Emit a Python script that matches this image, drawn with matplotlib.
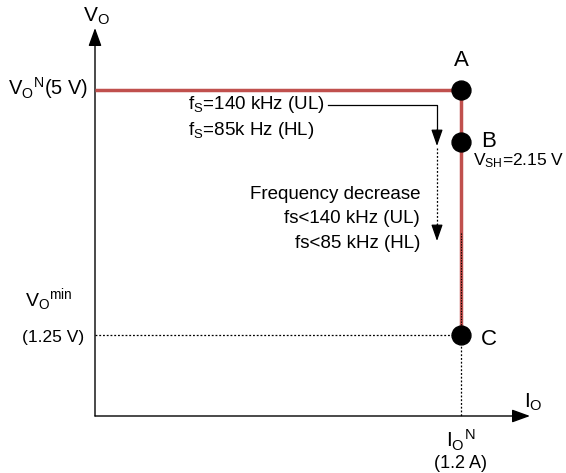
import matplotlib
matplotlib.use("Agg")
import matplotlib.pyplot as plt

plt.rcParams['font.family'] = ['Liberation Sans', 'DejaVu Sans']
plt.rcParams['mathtext.fontset'] = 'custom'
plt.rcParams['mathtext.rm'] = 'Liberation Sans'
plt.rcParams['mathtext.it'] = 'Liberation Sans:italic'

# Schematic data (diagram units: x = load current axis, y = output-voltage axis, top-down)
point_names = ['A', 'B', 'C']
point_y = [90, 142, 335]          # V_O^N (5 V), V_SH (2.15 V), V_O^min (1.25 V)
io_nominal_x = 461                # I_O^N (1.2 A)
origin = (95, 416)
axis_end = (530, 28)
curve_x = [95, 461, 461]
curve_y = [90, 90, 335]

RED = '#c0504d'

fig = plt.figure(figsize=(5.66, 4.73), dpi=100)
ax = fig.add_axes([0, 0, 1, 1])
ax.set_xlim(0, 566)
ax.set_ylim(473, 0)
ax.axis('off')

# axes with arrows
ax.annotate('', xy=(origin[0], axis_end[1]), xytext=origin,
            arrowprops=dict(arrowstyle='-|>,head_length=1.1,head_width=0.4', color='black', lw=1.0,
                            shrinkA=0, shrinkB=0))
ax.annotate('', xy=(axis_end[0], origin[1]), xytext=origin,
            arrowprops=dict(arrowstyle='-|>,head_length=1.1,head_width=0.4', color='black', lw=1.0,
                            shrinkA=0, shrinkB=0))

# dotted guides
ax.plot([origin[0], io_nominal_x], [point_y[2], point_y[2]], ls=(0, (1.5, 1.5)), color='black', lw=0.9)
ax.plot([io_nominal_x, io_nominal_x], [point_y[2], origin[1]], ls=(0, (1.5, 1.5)), color='black', lw=0.9)

# red curve
ax.plot(curve_x, curve_y, color=RED, lw=2.5, solid_capstyle='butt', zorder=3)
ax.plot([io_nominal_x, io_nominal_x], [233, point_y[2]], ls=(0, (1.2, 1.2)), color='black', lw=0.8, zorder=4)

# points
ax.scatter([io_nominal_x] * 3, point_y, s=185, color='black', zorder=5)

ax.text(io_nominal_x, 60, point_names[0], fontsize=16, ha='center', va='center')
ax.text(481, 141, point_names[1], fontsize=16, ha='left', va='center')
ax.text(481, 339, point_names[2], fontsize=16, ha='left', va='center')
ax.text(473, 161, r'V$_\mathrm{SH}$=2.15 V', fontsize=12.5, ha='left', va='center')

# axis labels
ax.text(96, 16, r'V$_\mathrm{O}$', fontsize=15, ha='center', va='center')
ax.text(524, 402, r'I$_\mathrm{O}$', fontsize=15, ha='left', va='center')
ax.text(8, 88, r'V$_\mathrm{O}$$^\mathrm{N}$(5 V)', fontsize=14.5, ha='left', va='center')
ax.text(25, 300, r'V$_\mathrm{O}$$^\mathrm{min}$', fontsize=14, ha='left', va='center')
ax.text(22, 337, '(1.25 V)', fontsize=12.5, ha='left', va='center')
ax.text(461, 440, r'I$_\mathrm{O}$$^\mathrm{N}$', fontsize=15, ha='center', va='center')
ax.text(461, 463, '(1.2 A)', fontsize=13, ha='center', va='center')

# frequency annotations
ax.text(188, 104, r'f$_\mathrm{S}$=140 kHz (UL)', fontsize=13.5, ha='left', va='center')
ax.text(188, 130, r'f$_\mathrm{S}$=85k Hz (HL)', fontsize=13.5, ha='left', va='center')
ax.plot([328, 437, 437], [105, 105, 132], color='black', lw=0.9)
ax.annotate('', xy=(437, 146), xytext=(437, 130),
            arrowprops=dict(arrowstyle='-|>,head_length=1.0,head_width=0.35', color='black', lw=0.9,
                            shrinkA=0, shrinkB=0))
ax.plot([437, 437], [148, 226], ls=(0, (1.5, 1.5)), color='black', lw=0.9)
ax.annotate('', xy=(437, 241), xytext=(437, 225),
            arrowprops=dict(arrowstyle='-|>,head_length=1.0,head_width=0.35', color='black', lw=0.9,
                            shrinkA=0, shrinkB=0))
ax.text(420, 194, 'Frequency decrease', fontsize=13.5, ha='right', va='center')
ax.text(420, 218, 'fs<140 kHz (UL)', fontsize=13.5, ha='right', va='center')
ax.text(420, 243, 'fs<85 kHz (HL)', fontsize=13.5, ha='right', va='center')

fig.savefig('out.png', dpi=100)
